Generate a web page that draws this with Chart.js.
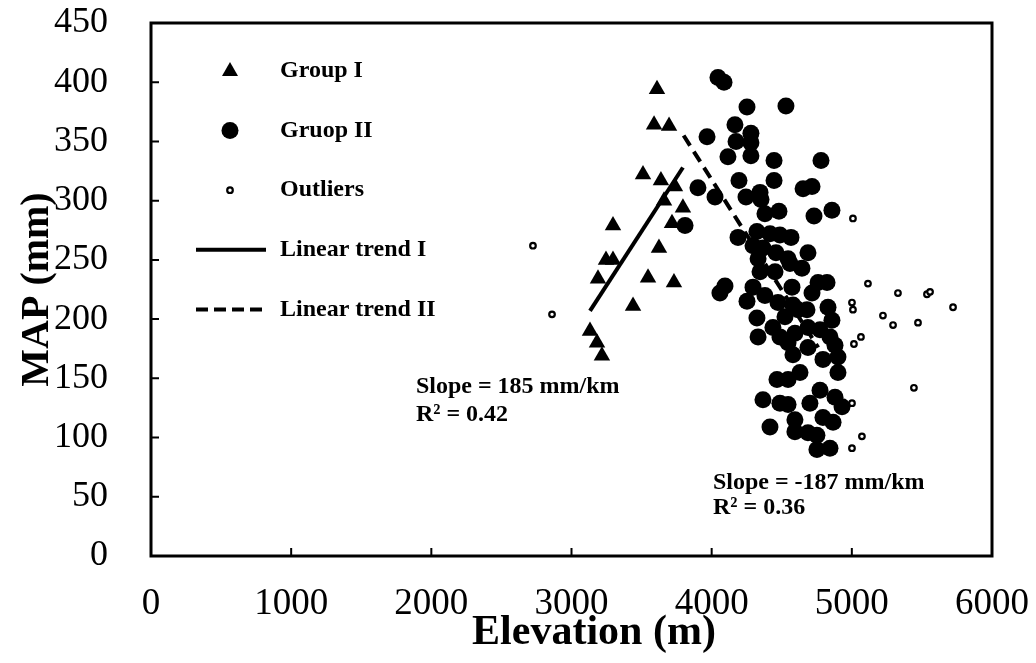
<!DOCTYPE html>
<html>
<head>
<meta charset="utf-8">
<script src="https://cdn.jsdelivr.net/npm/chart.js@4.4.1/dist/chart.umd.min.js"></script>
<style>
  html, body { margin: 0; padding: 0; background: #fff; }
  #wrap { width: 1036px; height: 663px; position: relative; }
</style>
</head>
<body>
<div id="wrap"><canvas id="mapChart"></canvas></div>
<script>
// Group I (triangles)
const groupIElev = [3610, 3589, 3696, 3510, 3638, 3738, 3660, 3795, 3717, 3296, 3624, 3246, 3296, 3189, 3546, 3731, 3439, 3132, 3182, 3217];
const groupIMap  = [394, 364, 363, 322, 317, 312, 300, 294, 281, 279, 260, 250, 250, 234, 235, 231, 211, 190, 180, 169];

// Group II (filled circles)
const groupIIElev = [4045, 4088, 4252, 4530, 4166, 4280, 3967, 4174, 4280, 4116, 4280, 4445, 4780, 4195, 4445, 3902, 4652, 4716, 4024, 4245,
  4345, 4352, 4480, 4380, 4858, 4730, 3810, 4188, 4323, 4416, 4487, 4566, 4295, 4366, 4459, 4687, 4545, 4331, 4095, 4059,
  4252, 4559, 4644, 4452, 4345, 4295, 4573, 4759, 4823, 4380, 4473, 4716, 4680, 4616, 4830, 4323, 4523, 4858, 4437, 4687,
  4773, 4331, 4487, 4594, 4844, 4545, 4687, 4880, 4580, 4794, 4901, 4901, 4630, 4466, 4545, 4773, 4880, 4366, 4487, 4545,
  4701, 4930, 4794, 4866, 4594, 4416, 4594, 4687, 4751, 4751, 4844, 4580];
const groupIIMap = [404, 400, 379, 380, 364, 357, 354, 350, 349, 337, 338, 334, 334, 317, 317, 311, 310, 312, 303, 303,
  307, 301, 291, 289, 292, 287, 279, 269, 274, 272, 271, 269, 262, 260, 256, 256, 251, 251, 228, 222,
  215, 247, 243, 240, 240, 227, 227, 231, 231, 220, 214, 222, 208, 208, 210, 201, 202, 199, 193, 193,
  191, 185, 185, 188, 185, 180, 176, 178, 170, 166, 168, 155, 155, 149, 149, 140, 134, 132, 129, 128,
  129, 126, 117, 113, 115, 109, 105, 104, 102, 90, 91, 212];

// Outliers (open circles)
const outlierElev = [2725, 2861, 5008, 5115, 5329, 5536, 5558, 5722, 5001, 5008, 5222, 5294, 5472, 5015, 5065, 5443, 5001, 5072, 5001];
const outlierMap  = [262, 204, 285, 230, 222, 221, 223, 210, 214, 208, 203, 195, 197, 179, 185, 142, 129, 101, 91];

// Linear trends (end points)
const trendIElev = [3132, 3795];
const trendIMap  = [207, 328];
const trendIIElev = [3800, 4760];
const trendIIMap  = [355, 176];

// Axis ticks
const elevTicks = [0, 1000, 2000, 3000, 4000, 5000, 6000];
const mapTicks = [0, 50, 100, 150, 200, 250, 300, 350, 400, 450];

// Slope annotations: [elevation, MAP, text]
const notes = [
  [1890, 143, 'Slope = 185 mm/km'],
  [1890, 119, 'R\u00B2 = 0.42'],
  [4009, 62, 'Slope = -187 mm/km'],
  [4009, 41, 'R\u00B2 = 0.36']
];

const xTitle = 'Elevation (m)';
const serif = '"Liberation Serif", "Times New Roman", serif';

function toPoints(xs, ys) {
    return xs.map((x, i) => ({ x: x, y: ys[i] }));
}

// draws frame, inward ticks, legend, x title and text notes
const decorPlugin = {
    id: 'decor',
    afterDraw(chart) {
        const ctx = chart.ctx;
        const a = chart.chartArea;
        const xs = chart.scales.x;
        const ys = chart.scales.y;
        ctx.save();
        ctx.strokeStyle = '#000';
        ctx.lineWidth = 3;
        ctx.strokeRect(a.left, a.top, a.right - a.left, a.bottom - a.top);

        ctx.lineWidth = 2;
        ctx.beginPath();
        mapTicks.slice(1, -1).forEach(v => {
            const py = ys.getPixelForValue(v);
            ctx.moveTo(a.left, py);
            ctx.lineTo(a.left + 8, py);
        });
        elevTicks.slice(1, -1).forEach(v => {
            const px = xs.getPixelForValue(v);
            ctx.moveTo(px, a.bottom);
            ctx.lineTo(px, a.bottom - 8);
        });
        ctx.stroke();

        // legend
        const mx = a.left + 79;
        const tx = a.left + 129;
        const rowY = i => a.top + 48 + i * 59.6;
        ctx.fillStyle = '#000';
        // triangle
        let y = rowY(0);
        ctx.beginPath();
        ctx.moveTo(mx, y - 9);
        ctx.lineTo(mx + 8, y + 5);
        ctx.lineTo(mx - 8, y + 5);
        ctx.closePath();
        ctx.fill();
        // circle
        y = rowY(1);
        ctx.beginPath();
        ctx.arc(mx, y, 8.5, 0, Math.PI * 2);
        ctx.fill();
        // open circle
        y = rowY(2);
        ctx.beginPath();
        ctx.arc(mx, y, 2.8, 0, Math.PI * 2);
        ctx.lineWidth = 2.2;
        ctx.stroke();
        // solid line
        y = rowY(3);
        ctx.lineWidth = 4;
        ctx.beginPath();
        ctx.moveTo(a.left + 45, y);
        ctx.lineTo(a.left + 115, y);
        ctx.stroke();
        // dashed line
        y = rowY(4);
        ctx.setLineDash([12, 6]);
        ctx.beginPath();
        ctx.moveTo(a.left + 45, y);
        ctx.lineTo(a.left + 115, y);
        ctx.stroke();
        ctx.setLineDash([]);

        ctx.font = 'bold 24px ' + serif;
        ctx.textBaseline = 'middle';
        ctx.textAlign = 'left';
        chart.data.datasets.forEach((ds, i) => {
            ctx.fillText(ds.label, tx, rowY(i));
        });

        notes.forEach(n => {
            ctx.fillText(n[2], xs.getPixelForValue(n[0]), ys.getPixelForValue(n[1]));
        });

        // x axis title (sits right of centre in the original)
        ctx.font = 'bold 42px ' + serif;
        ctx.textAlign = 'center';
        ctx.fillText(xTitle, a.left + 443, a.bottom + 77);
        ctx.restore();
    }
};

const ctx = document.getElementById('mapChart');
new Chart(ctx, {
    type: 'scatter',
    data: {
        datasets: [
            {
                label: 'Group I',
                data: toPoints(groupIElev, groupIMap),
                pointStyle: 'triangle',
                pointRadius: 9.5,
                backgroundColor: '#000',
                borderColor: '#000',
                borderWidth: 0,
                order: 2
            },
            {
                label: 'Gruop II',
                data: toPoints(groupIIElev, groupIIMap),
                pointStyle: 'circle',
                pointRadius: 8.5,
                backgroundColor: '#000',
                borderColor: '#000',
                borderWidth: 0,
                order: 1
            },
            {
                label: 'Outliers',
                data: toPoints(outlierElev, outlierMap),
                pointStyle: 'circle',
                pointRadius: 2.8,
                backgroundColor: '#fff',
                borderColor: '#000',
                borderWidth: 2.2,
                order: 0
            },
            {
                label: 'Linear trend I',
                data: toPoints(trendIElev, trendIMap),
                showLine: true,
                pointRadius: 0,
                borderColor: '#000',
                borderWidth: 4,
                order: 3
            },
            {
                label: 'Linear trend II',
                data: toPoints(trendIIElev, trendIIMap),
                showLine: true,
                pointRadius: 0,
                borderColor: '#000',
                borderWidth: 4,
                borderDash: [12, 7],
                order: 3
            }
        ]
    },
    options: {
        responsive: true,
        maintainAspectRatio: false,
        animation: false,
        layout: {
            padding: { left: 0, top: 23, right: 44, bottom: 0 }
        },
        scales: {
            x: {
                type: 'linear',
                min: 0,
                max: 6000,
                afterBuildTicks: s => { s.ticks = elevTicks.map(v => ({ value: v })); },
                afterFit: s => {
                    s.height = 107;
                    s.paddingLeft = 0;
                    s.paddingRight = 0;
                },
                grid: { display: false, drawTicks: false },
                border: { display: false },
                ticks: {
                    color: '#000',
                    padding: 26,
                    maxRotation: 0,
                    callback: v => String(v),
                    font: { family: serif, size: 37 }
                },
                title: { display: false }
            },
            y: {
                type: 'linear',
                min: 0,
                max: 450,
                afterBuildTicks: s => { s.ticks = mapTicks.map(v => ({ value: v })); },
                afterFit: s => {
                    s.width = 151;
                    s.paddingTop = 0;
                    s.paddingBottom = 0;
                },
                grid: { display: false, drawTicks: false },
                border: { display: false },
                ticks: {
                    color: '#000',
                    padding: 43,
                    callback: v => String(v),
                    font: { family: serif, size: 36 }
                },
                title: {
                    display: true,
                    text: 'MAP (mm)',
                    color: '#000',
                    padding: { top: 14, bottom: 0 },
                    font: { family: serif, size: 40, weight: 'bold' }
                }
            }
        },
        plugins: {
            legend: { display: false },
            tooltip: { enabled: false }
        }
    },
    plugins: [decorPlugin]
});
</script>
</body>
</html>
